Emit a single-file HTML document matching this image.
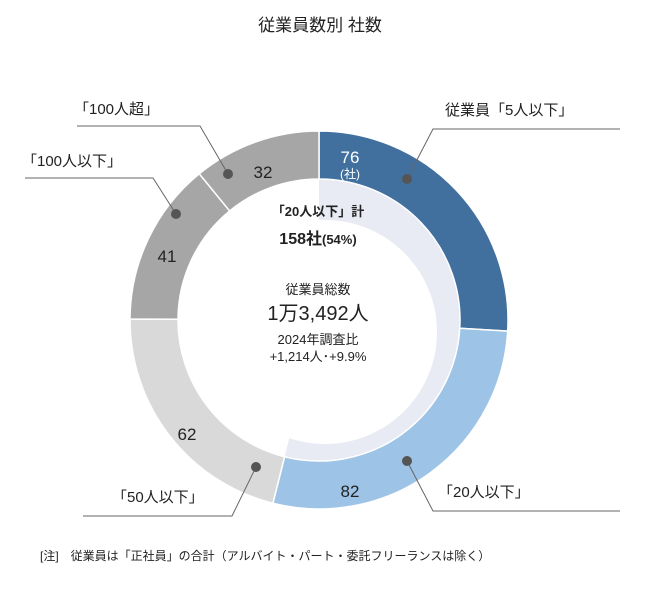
<!DOCTYPE html>
<html><head><meta charset="utf-8">
<style>
html,body{margin:0;padding:0;background:#fff;}
body{width:650px;height:587px;overflow:hidden;font-family:"Liberation Sans","Noto Sans CJK JP",sans-serif;}
svg text{font-family:"Liberation Sans","Noto Sans CJK JP",sans-serif;}
</style></head>
<body>
<svg id="chart" width="650" height="587" viewBox="0 0 650 587" xmlns="http://www.w3.org/2000/svg">
<text x="320" y="31" text-anchor="middle" font-size="17" fill="#222">従業員数別 社数</text>
<g id="lav"></g>
<g id="ring"></g>
<g id="center">
<text x="318" y="216" text-anchor="middle" font-size="13" font-weight="bold" fill="#222">「20人以下」計</text>
<text x="318" y="244" text-anchor="middle" font-size="16" font-weight="bold" fill="#222">158社<tspan font-size="13">(54%)</tspan></text>
<text x="318" y="294" text-anchor="middle" font-size="13" fill="#222">従業員総数</text>
<text x="318" y="320" text-anchor="middle" font-size="20" fill="#222">1万3,492人</text>
<text x="318" y="344" text-anchor="middle" font-size="13" fill="#222">2024年調査比</text>
<text x="318" y="361" text-anchor="middle" font-size="13" fill="#222">+1,214人･+9.9%</text>
</g>
<g id="leaders" stroke="#666" stroke-width="1" fill="none">
<polyline points="407,179 433,129 620,129"/>
<polyline points="407,461 433,511 620,511"/>
<polyline points="256,467 232,516 83,516"/>
<polyline points="176,214 153,178 25,178"/>
<polyline points="228,174 200,126 77,126"/>
</g>
<g fill="#555">
<circle cx="407" cy="179" r="5"/>
<circle cx="407" cy="461" r="5"/>
<circle cx="256" cy="467" r="5"/>
<circle cx="176" cy="214" r="5"/>
<circle cx="228" cy="174" r="5"/>
</g>
<g font-size="15" fill="#222">
<text x="445" y="115">従業員「5人以下」</text>
<text x="438" y="497">「20人以下」</text>
<text x="112" y="502">「50人以下」</text>
<text x="22" y="166">「100人以下」</text>
<text x="74" y="114">「100人超」</text>
</g>
<g id="vals"></g>
<text x="40" y="560" font-size="12" fill="#222">[注]　従業員は「正社員」の合計（アルバイト・パート・委託フリーランスは除く）</text>
</svg>
<script>
const categories=["5人以下","20人以下","50人以下","100人以下","100人超"];
const values=[76,82,62,41,32];
const colors=["#41709f","#9dc3e6","#d9d9d9","#a6a6a6","#a6a6a6"];
const cx=319,cy=320,R=189,r=141;
const NS="http://www.w3.org/2000/svg";
const total=values.reduce((a,b)=>a+b,0);
function pt(a,rad){return [cx+rad*Math.sin(a),cy-rad*Math.cos(a)];}
function arcPath(a0,a1,ro,ri){
 const L=(a1-a0)>Math.PI?1:0;
 const p0=pt(a0,ro),p1=pt(a1,ro),p2=pt(a1,ri),p3=pt(a0,ri);
 return `M${p0}A${ro},${ro} 0 ${L} 1 ${p1}L${p2}A${ri},${ri} 0 ${L} 0 ${p3}Z`;
}
const ring=document.getElementById('ring'),vals=document.getElementById('vals'),lav=document.getElementById('lav');
let acc=0;
// lavender sector for first two categories
const sub=values[0]+values[1];
const lp=document.createElementNS(NS,'path');
const e=sub/total*2*Math.PI;
const pe=pt(e,r);
lp.setAttribute('d',`M${cx},${cy}L${pt(0,r)}A${r},${r} 0 ${e>Math.PI?1:0} 1 ${pe}Z`);
lp.setAttribute('fill','#e8eaf4');


lav.appendChild(lp);
const wc=document.createElementNS(NS,'circle');
wc.setAttribute('cx',325);wc.setAttribute('cy',332);wc.setAttribute('r',112);wc.setAttribute('fill','#fff');


lav.appendChild(wc);
values.forEach((v,i)=>{
 const a0=acc/total*2*Math.PI;acc+=v;const a1=acc/total*2*Math.PI;
 const p=document.createElementNS(NS,'path');
 p.setAttribute('d',arcPath(a0,a1,R,r));
 p.setAttribute('fill',colors[i]);p.setAttribute('stroke','#fff');p.setAttribute('stroke-width','1.5');
 
 
 ring.appendChild(p);
 const am=(a0+a1)/2;
 let pos;
 if(i===0)pos=[350,163];else if(i===1)pos=[350,497];else if(i===2)pos=[187,440];else if(i===3)pos=[167,262];else pos=[263,178];
 const t=document.createElementNS(NS,'text');
 t.setAttribute('x',pos[0]);t.setAttribute('y',pos[1]);t.setAttribute('text-anchor','middle');
 t.setAttribute('font-size','17');t.setAttribute('fill',i===0?'#fff':'#222');
 t.textContent=v;
 
 
 vals.appendChild(t);
 if(i===0){
  const u=document.createElementNS(NS,'text');
  u.setAttribute('x',pos[0]);u.setAttribute('y',pos[1]+15);u.setAttribute('text-anchor','middle');
  u.setAttribute('font-size','12');u.setAttribute('fill','#fff');u.textContent='(社)';
  
  
  vals.appendChild(u);
 }
});
</script>
</body></html>
